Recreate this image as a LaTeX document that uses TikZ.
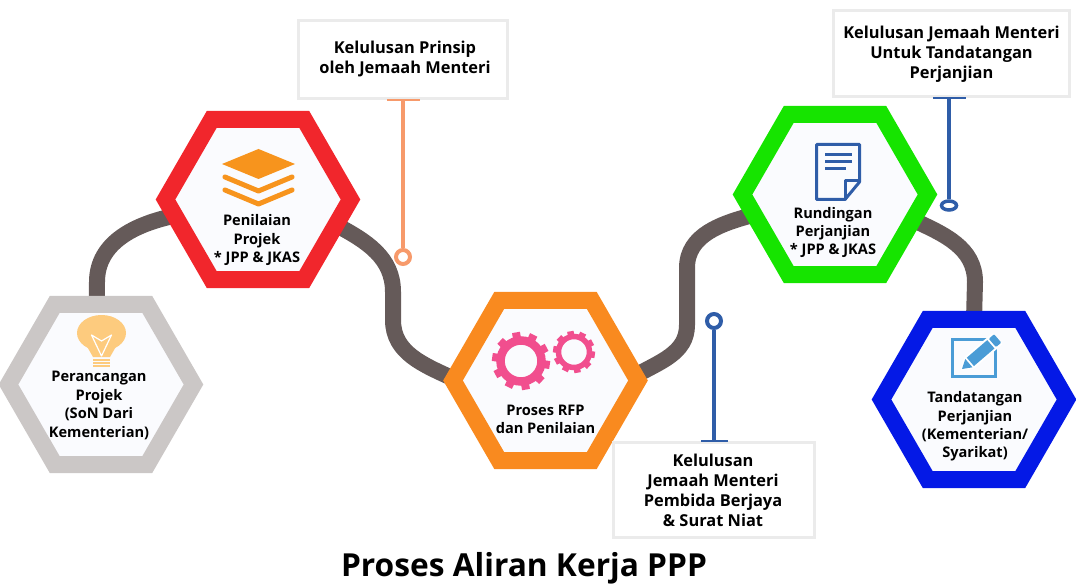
\documentclass[tikz,border=0pt]{standalone}
\usepackage{fontspec}
\setmainfont{Open Sans}
\usepackage{tikz}
\usetikzlibrary{shapes.geometric,positioning,backgrounds}

\definecolor{trackgrey}{HTML}{655A59}
\definecolor{hexgrey}{HTML}{CBC7C6}
\definecolor{hexred}{HTML}{F1262C}
\definecolor{hexorange}{HTML}{F98A1F}
\definecolor{hexgreen}{HTML}{16E400}
\definecolor{hexblue}{HTML}{0419E6}
\definecolor{hexinner}{HTML}{FAFBFE}
\definecolor{boxedge}{HTML}{EBEBEB}
\definecolor{stemorange}{HTML}{F79A6B}
\definecolor{stemblue}{HTML}{2F5DA8}
\definecolor{iconorange}{HTML}{F7941D}
\definecolor{lampyellow}{HTML}{FDCB7E}
\definecolor{gearpink}{HTML}{F14E8E}
\definecolor{penblue}{HTML}{4A9CD6}

\begin{document}
\begin{tikzpicture}[
    x=1pt, y=-1pt, on grid,
    hexnode/.style={regular polygon, regular polygon sides=6, draw=#1, line width=17pt,
        fill=hexinner, minimum size=185pt, inner sep=0pt, outer sep=0pt},
    hexlabel/.style={align=center, font=\bfseries\fontsize{14.6}{18.4}\selectfont},
    boxnode/.style={draw=boxedge, line width=2.5pt, fill=white},
    boxlabel/.style={align=center, font=\bfseries\fontsize{16.4}{20}\selectfont},
    track/.style={draw=trackgrey, line width=16pt},
    stem/.style={draw=#1, line width=4.5pt},
    ringnode/.style={circle, draw=#1, line width=4pt, fill=white, minimum size=14pt, inner sep=0pt}
]
\useasboundingbox (0,0) rectangle (1076,585);

% hexagons
\node[hexnode=hexgrey] (perancangan) at (101,384.5) {};
\node[hexnode=hexred] (penilaian) [above right=185pt and 157pt of perancangan] {};
\node[hexnode=hexorange] (proses) [below right=181pt and 287.5pt of penilaian] {};
\node[hexnode=hexgreen] (rundingan) [above right=186pt and 289.5pt of proses] {};
\node[hexnode=hexblue] (tandatangan) [below right=205pt and 139pt of rundingan] {};

% hexagon texts
\node[hexlabel] (perancanganText) [below left=21pt and 2pt of perancangan] {Perancangan\\Projek\\(SoN Dari\\Kementerian)};
\node[hexlabel] (penilaianText) [below left=40.5pt and 1pt of penilaian] {Penilaian\\Projek\\* JPP \& JKAS};
\node[hexlabel] (prosesText) [below=39pt of proses] {Proses RFP\\dan Penilaian};
\node[hexlabel] (rundinganText) [below left=38pt and 2pt of rundingan] {Rundingan\\Perjanjian\\* JPP \& JKAS};
\node[hexlabel] (tandatanganText) [below right=27pt and 1pt of tandatangan] {Tandatangan\\Perjanjian\\(Kementerian/\\Syarikat)};

% track behind the hexagons
\begin{scope}[on background layer]
\draw[track] (perancangan.93) -- (97,282) to[out=90,in=192] (penilaian.191);
\draw[track] (penilaian.-18) to[out=-28,in=90] (393,292) -- (393,320) to[out=-90,in=155] (proses.179);
\draw[track] (proses.3) to[out=30,in=-90] (687,325) -- (687,268) to[out=90,in=195] (rundingan.194);
\draw[track] (rundingan.-18) to[out=-25,in=90] (975,282) -- (tandatangan.north);
\end{scope}

% call-outs
\node[boxnode, minimum width=209pt, minimum height=78pt] (prinsip) at (403,59.5) {};
\node[boxnode, minimum width=201pt, minimum height=95pt] (pembida) at (714,490) {};
\node[boxnode, minimum width=236pt, minimum height=86pt] (perjanjian) at (951.5,53.5) {};
\node[boxlabel] (prinsipText) [above right=1pt and 2pt of prinsip] {Kelulusan Prinsip\\oleh Jemaah Menteri};
\node[boxlabel] (pembidaText) [left=1pt of pembida] {Kelulusan\\Jemaah Menteri\\Pembida Berjaya\\\& Surat Niat};
\node[boxlabel] (perjanjianText) [below=1pt of perjanjian] {Kelulusan Jemaah Menteri\\Untuk Tandatangan\\Perjanjian};

\node[ringnode=stemorange] (ringPrinsip) at (403,257) {};
\node[ringnode=stemblue] (ringPembida) at (714,321) {};
\node[ellipse, draw=stemblue, line width=3.5pt, fill=white, minimum width=15pt, minimum height=9pt, inner sep=0pt] (ringPerjanjian) at (949,205.5) {};

\draw[stem=stemorange] (prinsip.south) -- (ringPrinsip);
\draw[stem=stemblue] (pembida.north) -- (ringPembida);
\draw[stem=stemblue] (ringPerjanjian |- perjanjian.south) -- (ringPerjanjian);
\draw[stemorange, line width=2pt] (prinsip.south) ++(-16,0) -- ++(33,0);
\draw[stemblue, line width=2pt] (pembida.north) ++(-13,0) -- ++(27,0);
\draw[stemblue, line width=2pt] (ringPerjanjian |- perjanjian.south) ++(-16,0) -- ++(33,0);

% layers icon
\fill[iconorange] (258.5,149) -- (295,164) -- (258.5,179) -- (222,164) -- cycle;
\foreach \y in {177,190}
  \draw[iconorange, line width=5pt, line cap=round, line join=round] (225,\y) -- (258.5,\y+14) -- (292,\y);

% lamp icon
\fill[lampyellow] (101.5,333) ellipse (24.5 and 18);
\fill[lampyellow] (85,343) -- (93,357) -- (110,357) -- (118,343) -- cycle;
\foreach \y in {358.5,361.5,364.5}
  \fill[lampyellow] (93,\y) rectangle (110,\y+2);
\draw[white, line width=1.2pt, line join=round] (91.5,335) -- (101.5,341) -- (111.5,335) -- (101.5,356) -- cycle;

% gear icons
\foreach \cx/\cy/\rad/\wid/\tip/\tw in {521/361/20.5/8.5/29/8, 574/352/15.5/5.5/21/6.5} {
  \draw[gearpink, line width=\wid pt] (\cx,\cy) circle (\rad);
  \foreach \a in {0,36,...,324}
    \fill[gearpink, rotate around={\a+10:(\cx,\cy)}] (\cx-\tw/2,\cy-\tip) rectangle (\cx+\tw/2,\cy-\rad);
}

% document icon
\draw[stemblue, line width=3pt, line join=round] (845,199.5) -- (816.5,199.5) -- (816.5,144.5) -- (859.5,144.5) -- (859.5,182) -- cycle;
\draw[stemblue, line width=3pt, line join=round] (845,199.5) -- (845,181) -- (859.5,181);
\foreach \y/\xend in {154.5/852, 161.5/852, 168.5/846}
  \draw[stemblue, line width=3.5pt] (825,\y) -- (\xend,\y);

% pencil icon
\draw[penblue, line width=3.5pt] (952.5,339.5) rectangle (995.5,376.5);
\begin{scope}[shift={(962,369)}, rotate=40.6]
\draw[white, line width=3pt, line join=round, fill=white] (0,0) -- (10,-6) -- (46,-6) -- (46,6) -- (10,6) -- cycle;
\fill[penblue] (0,0) -- (9,-5.5) -- (9,5.5) -- cycle;
\fill[penblue] (11,-5.5) rectangle (38,5.5);
\fill[penblue, rounded corners=1pt] (40,-5.5) rectangle (47,5.5);
\end{scope}

% title
\node[font=\bfseries\fontsize{31.7}{36}\selectfont] (title) at (524,568) {Proses Aliran Kerja PPP};
\end{tikzpicture}
\end{document}
